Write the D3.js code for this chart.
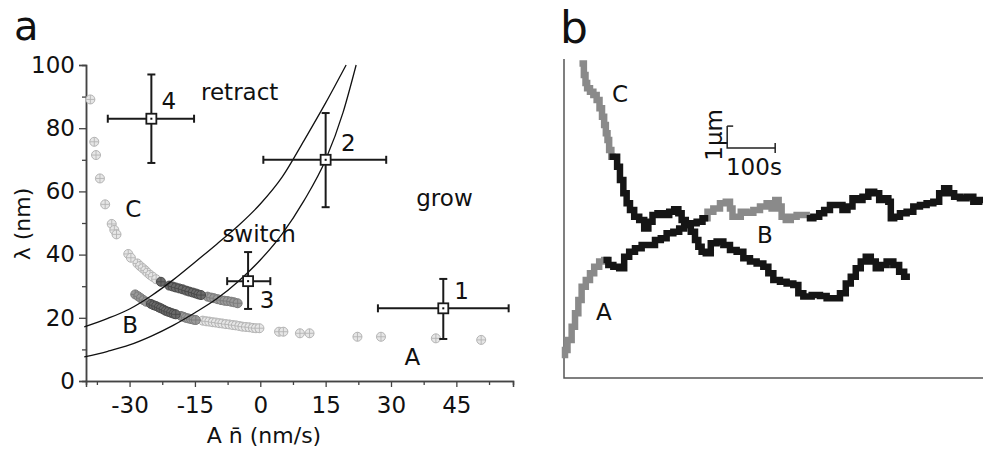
<!DOCTYPE html>
<html>
<head>
<meta charset="utf-8">
<script src="https://cdn.jsdelivr.net/npm/d3@7"></script>
<style>
  body { margin: 0; background: #fff; }
  svg text { font-family: "DejaVu Sans", sans-serif; fill: #111; }
</style>
</head>
<body>
<div id="chart"></div>
<script>
// ---- panel a: error-bar points (x, xlo, xhi, y, ylo, yhi) ----
const pointIds = ["1", "2", "3", "4"];
const pointX   = [42, 15, -2.8, -25];
const pointXlo = [27, 0.7, -7.6, -35];
const pointXhi = [57, 28.9, 2.3, -15.2];
const pointY   = [23, 70, 31.6, 83];
const pointYlo = [13.3, 55, 22.8, 69];
const pointYhi = [32.3, 84.8, 40.8, 97];

// ---- panel a: boundary curves ----
const upperCurve = [[-40.4, 17.1], [-35, 19.8], [-30, 22.8], [-25, 27], [-20, 32], [-15, 37.6], [-10, 43.3], [-5, 49.2], [0, 56], [5, 64.5], [10, 76], [15, 88], [19.7, 100]];
const lowerCurve = [[-40.4, 7.6], [-35, 9.4], [-30, 11.4], [-25, 14.2], [-20, 17.6], [-15, 21.6], [-10, 26], [-5, 31.6], [0, 38.3], [5, 46.5], [10, 57], [15, 70], [19, 85], [22, 100]];

// ---- panel a: tracked states (circled-plus markers), by shade ----
const lightPts = [
  [-39.0, 89.1], [-38.1, 75.7], [-37.7, 71.5], [-36.8, 64.1], [-35.6, 55.9], [-34.1, 49.7], [-33.5, 47.8], [-33.0, 46.4],
  [-30.3, 40.2], [-29.7, 39.0], [-28.2, 37.2], [-27.6, 36.4], [-27.0, 35.7], [-26.4, 35.0], [-25.9, 34.3], [-25.3, 33.6], [-24.7, 33.0], [-23.9, 32.2],
  [-13.2, 19.1], [-12.4, 18.9], [-11.7, 18.8], [-10.9, 18.6], [-10.2, 18.5], [-9.4, 18.3], [-8.7, 18.2], [-7.9, 18.0], [-7.1, 17.9], [-6.3, 17.7],
  [-5.6, 17.6], [-4.8, 17.4], [-4.1, 17.2], [-3.3, 17.1], [-2.5, 17.0], [-1.7, 16.8], [-1.0, 16.7], [-0.2, 16.7],
  [4.3, 15.6], [5.3, 15.6], [9.1, 15.1], [11.3, 15.1], [22.3, 14.0], [27.7, 14.0], [40.3, 13.5], [50.7, 13.0]
];
const midPts = [
  [-12.1, 26.7], [-11.3, 26.4], [-10.6, 26.2], [-9.8, 25.9], [-9.0, 25.6], [-8.2, 25.4], [-7.5, 25.3], [-6.7, 25.1], [-6.0, 24.9], [-5.2, 24.6],
  [-28.7, 27.4], [-28.0, 26.8], [-27.4, 26.2], [-26.8, 25.6], [-26.2, 25.1],
  [-18.2, 20.6], [-17.6, 20.3], [-17.1, 20.0], [-16.5, 19.8], [-15.9, 19.6], [-15.3, 19.4], [-14.8, 19.3]
];
const darkPts = [
  [-22.8, 31.4], [-20.9, 30.2], [-20.1, 29.9], [-19.4, 29.6], [-18.6, 29.3], [-17.8, 29.0], [-17.0, 28.6], [-16.3, 28.3], [-15.5, 28.0], [-14.8, 27.7], [-14.2, 27.4], [-13.6, 27.2],
  [-25.1, 24.4], [-24.5, 24.0], [-23.9, 23.7], [-23.3, 23.3], [-22.8, 23.0], [-22.2, 22.6], [-21.7, 22.2], [-21.1, 21.9], [-20.5, 21.6], [-19.9, 21.3], [-19.4, 21.1]
];

// ---- panel a: ticks and annotations ----
const xTicksA = [-30, -15, 0, 15, 30, 45];
const xMinorA = [-37.5, -22.5, -7.5, 7.5, 22.5, 37.5, 52.5];
const yTicksA = [0, 20, 40, 60, 80, 100];
const yMinorA = [10, 30, 50, 70, 90];
const notesA = [
  ["retract", -13.6, 88.9], ["grow", 35.8, 55.4], ["switch", -8.7, 44.0],
  ["C", -31.0, 51.9], ["B", -31.7, 15.2], ["A", 33.1, 5.1],
  ["4", -22.7, 86.1], ["2", 18.5, 72.8], ["1", 44.5, 25.9], ["3", -0.1, 23.1]
];

// ---- panel b: traces, time (s) vs position (um) ----
const cGray = [[39, 14.3], [43.8, 13.77], [45.8, 13.41], [50.6, 13.17], [57.7, 13.01], [64.6, 12.86], [71.5, 12.64], [76.5, 12.26], [81.9, 11.88], [85.4, 11.5], [89, 11.12], [92.3, 10.82], [95.8, 10.36], [101.5, 10.06]];
const cBlack = [[101.5, 10.06], [108.3, 10.06], [113, 9.6], [120.2, 9.0], [127.1, 8.4], [134, 7.94], [141, 7.64], [151.5, 7.33], [161.9, 7.18], [172.3, 6.8], [179.2, 7.1], [189.6, 7.41], [200, 7.49], [214, 7.41], [224.4, 7.56], [234.8, 7.67], [241.7, 7.49], [248.5, 7.18], [259, 6.95], [269.4, 6.65], [276.5, 6.27], [283.3, 5.97], [290.2, 5.74], [300.6, 5.67], [311, 6.12], [325, 6.2], [339, 6.05], [352.7, 5.82], [366.7, 5.74], [380.6, 5.44], [394.4, 5.29], [408.3, 5.21], [422.3, 5.06], [429.2, 4.76], [443.1, 4.45], [456.9, 4.38], [470.8, 4.3], [484.8, 4.23], [491.7, 3.85], [505.6, 3.7], [526.5, 3.77], [540.2, 3.73], [554.2, 3.62], [568.1, 3.62], [581.9, 3.85], [592.3, 4.3], [602.7, 4.6], [613.1, 4.99], [623.5, 5.29], [634, 5.51], [644.4, 5.29], [654.8, 4.99], [665.2, 5.14], [679.2, 5.29], [693.1, 5.14], [703.5, 4.83], [714, 4.6]];
const aGray = [[2.1, 1.05], [2.1, 1.27], [12.5, 1.73], [19.4, 2.33], [26.5, 2.94], [33.3, 3.55], [40.2, 4.15], [50.6, 4.45], [57.7, 4.76], [68.1, 5.06], [78.5, 5.29], [89, 5.36]];
const aBlack = [[89, 5.36], [95.8, 5.14], [109.8, 5.06], [120.2, 4.99], [130.6, 5.51], [141, 5.74], [154.8, 5.9], [168.8, 6.05], [182.7, 6.05], [196.5, 6.27], [206.9, 6.35], [220.8, 6.58], [234.8, 6.65], [245.2, 6.8], [255.6, 6.95], [269.4, 7.03], [283.3, 7.1], [293.8, 7.26]];
const bGray = [[293.8, 7.26], [304.2, 7.56], [318.1, 7.71], [331.9, 7.94], [342.3, 8.01], [349.4, 7.71], [352.7, 7.33], [363.1, 7.33], [373.5, 7.56], [387.5, 7.51], [401.5, 7.64], [415.2, 7.79], [429.2, 7.94], [436, 7.71], [444.4, 8.09], [450, 7.79], [456.9, 7.33], [467.3, 7.18], [477.7, 7.33], [491.7, 7.41], [505.6, 7.41]];
const bBlack = [[512.5, 7.26], [526.5, 7.33], [536.9, 7.49], [547.3, 7.64], [561, 7.86], [575, 7.86], [585.4, 7.64], [595.8, 7.79], [606.3, 8.17], [616.7, 8.09], [627.1, 8.24], [641, 8.47], [651.5, 8.4], [661.9, 8.09], [672.3, 8.17], [679.2, 8.01], [682.7, 7.26], [693.1, 7.33], [706.9, 7.49], [720.8, 7.56], [734.8, 7.79], [748.5, 7.86], [762.5, 7.94], [776.5, 8.01], [786.9, 8.4], [797.3, 8.62], [807.7, 8.4], [818.1, 8.24], [831.9, 8.17], [845.8, 8.24], [859.8, 8.01], [870.2, 8.09]];
const notesB = [["C", 100, 12.55], ["B", 402, 6.14], ["A", 66.7, 2.64], ["100s", 337.5, 9.23]];

const svg = d3.select("#chart").append("svg")
    .attr("width", 983)
    .attr("height", 450);

// ================= panel a =================
const xA = d3.scaleLinear().domain([-40, 58]).range([86, 513]);
const yA = d3.scaleLinear().domain([0, 100]).range([381, 65]);

svg.append("text").attr("x", 14).attr("y", 40).attr("font-size", 40).text("a");

const axisA = svg.append("g").attr("class", "axis-a");
axisA.append("g")
    .attr("transform", "translate(0,381)")
    .call(d3.axisBottom(xA).tickValues(xMinorA).tickSize(4).tickFormat(""));
axisA.append("g")
    .attr("transform", "translate(0,381)")
    .call(d3.axisBottom(xA).tickValues(xTicksA).tickSize(6).tickPadding(10).tickFormat(d => String(d)));
axisA.append("g")
    .attr("transform", "translate(86,0)")
    .call(d3.axisLeft(yA).tickValues(yMinorA).tickSize(4).tickFormat(""));
axisA.append("g")
    .attr("transform", "translate(86,0)")
    .call(d3.axisLeft(yA).tickValues(yTicksA).tickSize(7).tickPadding(4).tickFormat(d => String(d)));
axisA.selectAll("path.domain").attr("stroke", "#444").attr("stroke-width", 1.5);
axisA.selectAll(".tick line").attr("stroke", "#444").attr("stroke-width", 1.3);
axisA.selectAll(".tick text").attr("font-size", 23).attr("font-family", "DejaVu Sans").attr("fill", "#111");

svg.append("text")
    .attr("transform", "translate(30,224) rotate(-90)")
    .attr("text-anchor", "middle")
    .attr("font-size", 22)
    .text("λ (nm)");
svg.append("text")
    .attr("x", 264).attr("y", 443)
    .attr("text-anchor", "middle")
    .attr("font-size", 22)
    .text("A n\u0304 (nm/s)");

function drawMarks(pts, fill, stroke) {
  const g = svg.append("g").selectAll("g").data(pts).join("g")
      .attr("transform", d => `translate(${xA(d[0])},${yA(d[1])})`);
  g.append("circle").attr("r", 4.5).attr("fill", fill).attr("stroke", stroke).attr("stroke-width", 1);
  g.append("path").attr("d", "M-4.5,0H4.5M0,-4.5V4.5").attr("stroke", stroke).attr("stroke-width", 0.9);
}
drawMarks(lightPts, "#e6e6e6", "#b4b4b4");
drawMarks(midPts, "#9a9a9a", "#7c7c7c");
drawMarks(darkPts, "#6a6a6a", "#4a4a4a");

const curveLine = d3.line().x(d => xA(d[0])).y(d => yA(d[1])).curve(d3.curveMonotoneX);
[upperCurve, lowerCurve].forEach(c => {
  svg.append("path").datum(c).attr("d", curveLine)
      .attr("fill", "none").attr("stroke", "#111").attr("stroke-width", 1.3);
});

// error bars
const eb = svg.append("g").attr("stroke", "#1a1a1a").attr("stroke-width", 2);
pointIds.forEach((id, i) => {
  const cx = xA(pointX[i]), cy = yA(pointY[i]);
  eb.append("line").attr("x1", xA(pointXlo[i])).attr("x2", xA(pointXhi[i])).attr("y1", cy).attr("y2", cy);
  eb.append("line").attr("x1", cx).attr("x2", cx).attr("y1", yA(pointYlo[i])).attr("y2", yA(pointYhi[i]));
  [pointXlo[i], pointXhi[i]].forEach(v => eb.append("line")
      .attr("x1", xA(v)).attr("x2", xA(v)).attr("y1", cy - 4).attr("y2", cy + 4));
  [pointYlo[i], pointYhi[i]].forEach(v => eb.append("line")
      .attr("x1", cx - 4).attr("x2", cx + 4).attr("y1", yA(v)).attr("y2", yA(v)));
  eb.append("rect").attr("x", cx - 5).attr("y", cy - 5).attr("width", 10).attr("height", 10)
      .attr("fill", "#fff").attr("stroke-width", 1.8);
  eb.append("rect").attr("x", cx - 1).attr("y", cy - 1).attr("width", 2).attr("height", 2)
      .attr("fill", "#111").attr("stroke", "none");
});

svg.append("g").selectAll("text").data(notesA).join("text")
    .attr("x", d => xA(d[1])).attr("y", d => yA(d[2]))
    .attr("font-size", 23)
    .text(d => d[0]);

// ================= panel b =================
const xB = d3.scaleLinear().domain([0, 873]).range([564, 983]);
const yB = d3.scaleLinear().domain([0, 14.5]).range([378, 59]);

svg.append("text").attr("x", 560).attr("y", 43).attr("font-size", 44).text("b");

svg.append("path")
    .attr("d", `M${xB(0)},${yB(14.5)}V${yB(0)}H${xB(873)}`)
    .attr("fill", "none").attr("stroke", "#555").attr("stroke-width", 1.5);

// step curve gives the blocky look of the tracked positions
const trace = d3.line().x(d => xB(d[0])).y(d => yB(d[1])).curve(d3.curveStep);
[[cGray, "#8a8a8a"], [aGray, "#8a8a8a"], [bGray, "#8a8a8a"], [cBlack, "#151515"], [aBlack, "#151515"], [bBlack, "#151515"]]
  .forEach(([seg, col]) => {
    svg.append("path").datum(seg).attr("d", trace)
        .attr("fill", "none").attr("stroke", col).attr("stroke-width", 6.5)
        .attr("stroke-linejoin", "miter").attr("stroke-linecap", "square");
  });

// scale bar: 100 s by 1 um
const sb = svg.append("g").attr("stroke", "#222").attr("stroke-width", 1.5).attr("fill", "none");
sb.append("path").attr("d", `M${xB(340)},${yB(11.45)}V${yB(10.45)}H${xB(440)}`);
sb.append("line").attr("x1", xB(340)).attr("x2", xB(340) + 6).attr("y1", yB(11.45)).attr("y2", yB(11.45));
sb.append("line").attr("x1", xB(440)).attr("x2", xB(440)).attr("y1", yB(10.45) - 5).attr("y2", yB(10.45) + 5);

svg.append("g").selectAll("text").data(notesB).join("text")
    .attr("x", d => xB(d[1])).attr("y", d => yB(d[2]))
    .attr("font-size", 23)
    .text(d => d[0]);
svg.append("text")
    .attr("transform", `translate(${xB(329)},${yB(11.05)}) rotate(-90)`)
    .attr("text-anchor", "middle")
    .attr("font-size", 23)
    .text("1µm");
</script>
</body>
</html>
